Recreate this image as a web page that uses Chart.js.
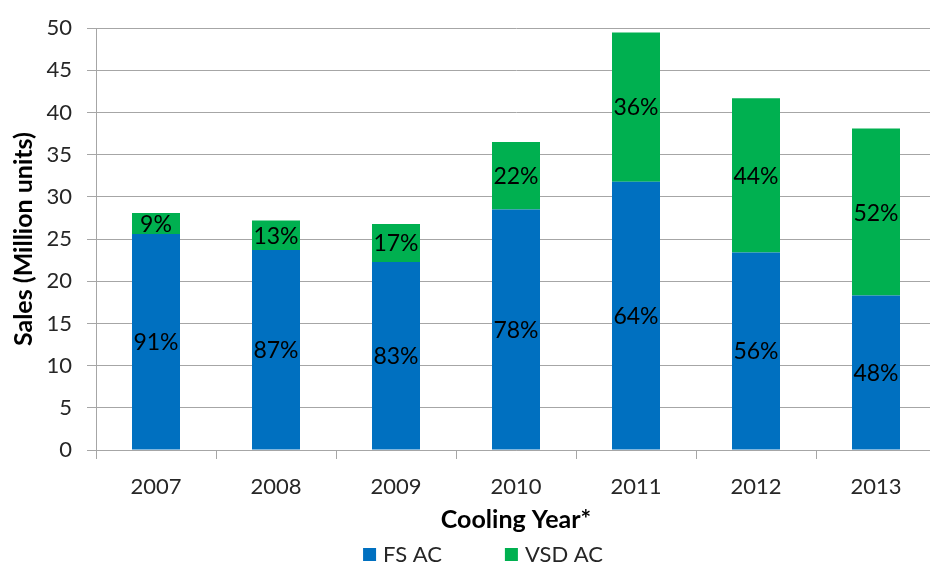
<!DOCTYPE html>
<html>
<head>
<meta charset="utf-8">
<script src="https://cdn.jsdelivr.net/npm/chart.js@4.4.1/dist/chart.umd.min.js"></script>
<style>
  html, body { margin: 0; padding: 0; background: #ffffff; overflow: hidden; }
  #wrap { position: relative; width: 940px; height: 563px; }
</style>
</head>
<body>
<div id="wrap"><canvas id="chart"></canvas></div>
<script>
// Cooling-year AC sales, million units
const years = ['2007', '2008', '2009', '2010', '2011', '2012', '2013'];
const fsAc  = [25.6, 23.7, 22.3, 28.5, 31.8, 23.4, 18.3];
const vsdAc = [2.5, 3.5, 4.5, 8.0, 17.7, 18.3, 19.8];
const seriesNames = ['FS AC', 'VSD AC'];
const seriesColors = ['#0070C0', '#00B050'];
const yTicks = { min: 0, max: 50, step: 5 };

const FONT = 'Lato, "Open Sans", sans-serif';
const GRID = '#a6a6a6';
const totals = years.map((_, i) => fsAc[i] + vsdAc[i]);

// Share of each year's total, written in the middle of every segment
const shareLabels = {
  id: 'shareLabels',
  afterDatasetsDraw(chart) {
    const ctx = chart.ctx;
    ctx.save();
    ctx.font = '23px ' + FONT;
    ctx.fillStyle = '#000000';
    ctx.textAlign = 'center';
    ctx.textBaseline = 'middle';
    chart.data.datasets.forEach((ds, di) => {
      const meta = chart.getDatasetMeta(di);
      meta.data.forEach((bar, i) => {
        const pct = Math.round(ds.data[i] / totals[i] * 100);
        ctx.fillText(pct + '%', bar.x, (bar.y + bar.base) / 2 + 1);
      });
    });
    ctx.restore();
  }
};

// Legend row under the axis title
const bottomLegend = {
  id: 'bottomLegend',
  afterDraw(chart) {
    const ctx = chart.ctx;
    ctx.save();
    ctx.font = '22px ' + FONT;
    ctx.textBaseline = 'middle';
    ctx.textAlign = 'left';
    const box = 13, gap = 7, itemGap = 63;
    const items = chart.data.datasets.map(ds => ({
      text: ds.label, color: ds.backgroundColor, w: ctx.measureText(ds.label).width
    }));
    const total = items.reduce((s, it) => s + box + gap + it.w, 0) + itemGap * (items.length - 1);
    let x = 483 - total / 2;
    const cy = 555;
    items.forEach(it => {
      ctx.fillStyle = it.color;
      ctx.fillRect(x, cy - 7, box, box);
      ctx.fillStyle = '#262626';
      ctx.fillText(it.text, x + box + gap, cy);
      x += box + gap + it.w + itemGap;
    });
    ctx.restore();
  }
};

new Chart(document.getElementById('chart'), {
  type: 'bar',
  data: {
    labels: years,
    datasets: [
      { label: seriesNames[0], data: fsAc, backgroundColor: seriesColors[0] },
      { label: seriesNames[1], data: vsdAc, backgroundColor: seriesColors[1] }
    ]
  },
  options: {
    responsive: true,
    maintainAspectRatio: false,
    animation: false,
    devicePixelRatio: 1,
    layout: { padding: { top: 28, right: 4, bottom: 28, left: 0 } },
    datasets: { bar: { categoryPercentage: 1, barPercentage: 0.4 } },
    plugins: {
      legend: { display: false },
      tooltip: { enabled: false }
    },
    scales: {
      x: {
        stacked: true,
        grid: { display: true, drawOnChartArea: false, drawTicks: true, tickLength: 9, color: GRID, offset: true },
        border: { display: true, color: GRID, width: 1 },
        ticks: { color: '#262626', font: { family: FONT, size: 22 }, padding: 15, maxRotation: 0 },
        title: { display: true, text: 'Cooling Year*', color: '#000000', padding: 0,
                 font: { family: FONT, size: 25, weight: 'bold' } },
        afterFit(scale) { scale.height = 85; }
      },
      y: {
        stacked: true,
        min: yTicks.min,
        max: yTicks.max,
        grid: { color: GRID, lineWidth: 1, tickLength: 9, drawTicks: true },
        border: { display: true, color: GRID, width: 1 },
        ticks: { stepSize: yTicks.step, color: '#262626', font: { family: FONT, size: 22 }, padding: 15 },
        title: { display: true, text: 'Sales (Million units)', color: '#000000', padding: { top: 9, bottom: 0 },
                 font: { family: FONT, size: 25, weight: 'bold' } },
        afterFit(scale) { scale.width = 96; }
      }
    }
  },
  plugins: [shareLabels, bottomLegend]
});
</script>
</body>
</html>
